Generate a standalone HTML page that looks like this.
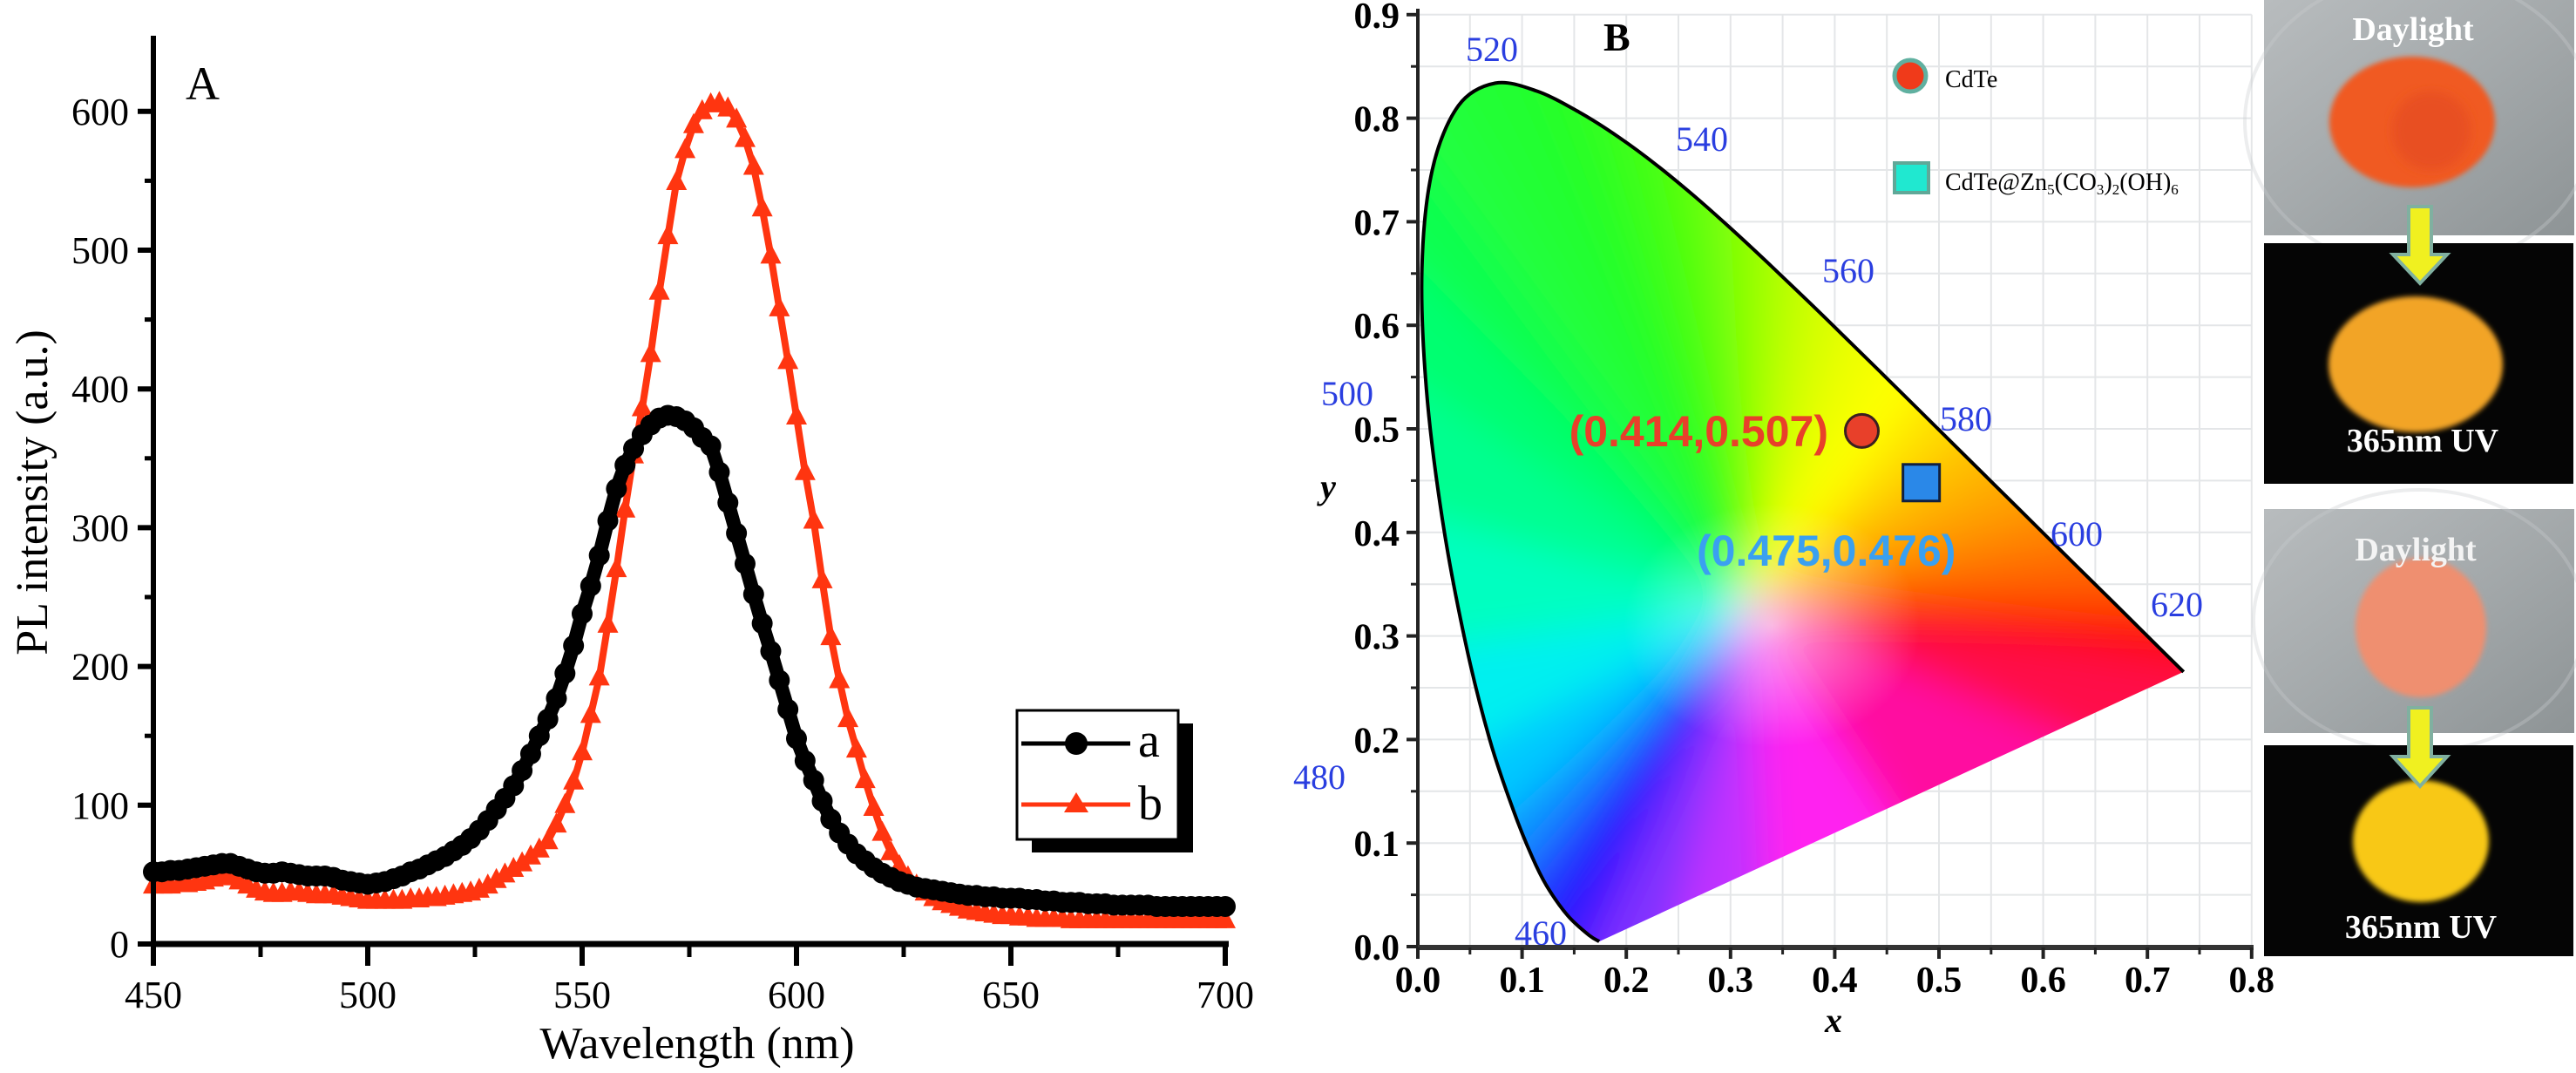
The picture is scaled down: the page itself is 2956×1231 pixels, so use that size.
<!DOCTYPE html>
<html><head><meta charset="utf-8"><style>
html,body{margin:0;padding:0;background:#fff;}
svg{display:block;}
</style></head><body>
<svg id="fig" width="2956" height="1231" viewBox="0 0 2956 1231" xmlns="http://www.w3.org/2000/svg">
<defs>
  <filter id="blurBig" x="-20%" y="-20%" width="140%" height="140%"><feGaussianBlur stdDeviation="22"/></filter>
  <filter id="blurSm"><feGaussianBlur stdDeviation="6"/></filter>
  <filter id="blurPh"><feGaussianBlur stdDeviation="3"/></filter>
  <radialGradient id="whiteGlow"><stop offset="0" stop-color="#fff" stop-opacity="0.6"/><stop offset="1" stop-color="#fff" stop-opacity="0"/></radialGradient>
  <linearGradient id="grayPhoto" x1="0" y1="0" x2="1" y2="1"><stop offset="0" stop-color="#b8bcbe"/><stop offset="0.5" stop-color="#a4a9ab"/><stop offset="1" stop-color="#8e9496"/></linearGradient>
  <clipPath id="locusClip"><path id="locusClipPath" d=""/></clipPath>
</defs>
<g id="panelA"></g>
<g id="panelB"></g>
<g id="photos">
  <rect x="2598" y="0" width="356" height="270" fill="url(#grayPhoto)"/>
  <ellipse cx="2776" cy="140" rx="200" ry="170" fill="none" stroke="#c8ccce" stroke-width="4" opacity="0.35"/>
  <ellipse cx="2768" cy="140" rx="95" ry="75" fill="#f05a20" filter="url(#blurPh)"/>
  <ellipse cx="2790" cy="150" rx="45" ry="45" fill="#e85020" filter="url(#blurSm)"/>
  <text x="2769" y="46" text-anchor="middle" font-family="Liberation Serif, serif" font-weight="bold" font-size="38" fill="#fff">Daylight</text>

  <rect x="2598" y="279" width="355" height="276" fill="#050505"/>
  <ellipse cx="2772" cy="418" rx="100" ry="78" fill="#f2a428" filter="url(#blurPh)"/>
  <text x="2780" y="518" text-anchor="middle" font-family="Liberation Serif, serif" font-weight="bold" font-size="38" fill="#fff">365nm UV</text>

  <rect x="2598" y="584" width="356" height="257" fill="url(#grayPhoto)"/>
  <ellipse cx="2776" cy="712" rx="190" ry="150" fill="none" stroke="#c8ccce" stroke-width="4" opacity="0.35"/>
  <ellipse cx="2778" cy="720" rx="75" ry="80" fill="#ef8f70" filter="url(#blurPh)"/>
  <text x="2772" y="643" text-anchor="middle" font-family="Liberation Serif, serif" font-weight="bold" font-size="38" fill="#f4f4f4">Daylight</text>

  <rect x="2598" y="855" width="355" height="242" fill="#050505"/>
  <ellipse cx="2778" cy="965" rx="78" ry="70" fill="#f8c818" filter="url(#blurPh)"/>
  <text x="2778" y="1076" text-anchor="middle" font-family="Liberation Serif, serif" font-weight="bold" font-size="38" fill="#fff">365nm UV</text>

  <path d="M2764,237 L2790,237 L2790,292 L2808,292 L2777,325 L2746,292 L2764,292 Z" fill="#f0f020" stroke="#80b0a0" stroke-width="4"/>
  <path d="M2764,812 L2790,812 L2790,868 L2808,868 L2777,902 L2746,868 L2764,868 Z" fill="#f0f020" stroke="#80b0a0" stroke-width="4"/>
</g>
</svg>
<script>
// ---------- Panel A data ----------
const wlStart = 450, wlStep = 2;
const seriesA = [52,52,53,53,54,55,56,57,58,58,
56,54,52,51,51,52,51,50,49,49,
49,48,46,45,44,43,44,45,47,49,
52,54,57,60,63,67,71,76,82,89,
97,105,114,125,137,150,162,177,195,215,
238,258,280,305,328,345,357,367,374,379,
381,380,377,372,365,359,340,318,296,274,
252,231,211,190,169,148,132,118,103,90,
80,72,65,60,55,51,48,45,43,41,
40,39,38,37,36,35,35,34,34,33,
33,33,32,32,31,31,30,30,30,29,
29,29,28,28,28,28,28,27,27,27,
27,27,27,27,27,27];
const seriesB = [42,42,42,43,43,44,45,47,49,48,
45,42,39,37,36,36,37,37,36,35,
35,35,34,33,32,31,31,31,31,31,
32,32,33,33,34,35,36,37,39,42,
46,50,54,58,63,68,74,86,100,117,
138,165,192,230,270,313,352,386,425,470,
510,549,572,590,600,605,606,602,594,580,
560,530,496,458,420,380,340,305,262,221,
190,162,140,118,98,80,66,56,48,42,
37,33,30,28,26,24,23,22,21,20,
20,19,19,18,18,18,18,17,17,17,
17,17,17,17,17,17,17,17,17,17,
17,17,17,17,17,17];
const xTicksA = [450,500,550,600,650,700];
const yTicksA = [0,100,200,300,400,500,600];

// ---------- Panel B data ----------
const locusWl = [380,440,460,470,475,480,485,490,495,500,505,510,515,520,525,530,535,540,545,550,555,560,565,570,575,580,585,590,595,600,610,620,640,700];
const locusX = [0.1741,0.1644,0.1440,0.1241,0.1096,0.0913,0.0687,0.0454,0.0235,0.0082,0.0039,0.0139,0.0389,0.0743,0.1142,0.1547,0.1929,0.2296,0.2658,0.3016,0.3373,0.3731,0.4087,0.4441,0.4788,0.5125,0.5448,0.5752,0.6029,0.6270,0.6658,0.6915,0.7190,0.7347];
const locusY = [0.0050,0.0109,0.0297,0.0578,0.0868,0.1327,0.2007,0.2950,0.4127,0.5384,0.6548,0.7502,0.8120,0.8338,0.8262,0.8059,0.7816,0.7543,0.7243,0.6923,0.6589,0.6245,0.5896,0.5547,0.5202,0.4866,0.4544,0.4242,0.3965,0.3725,0.3340,0.3083,0.2809,0.2653];
const sampleNames = ["CdTe","CdTe@Zn5(CO3)2(OH)6"];
const sampleX = [0.426,0.483];
const sampleY = [0.498,0.448];
const xTicksB = ["0.0","0.1","0.2","0.3","0.4","0.5","0.6","0.7","0.8"];
const yTicksB = ["0.0","0.1","0.2","0.3","0.4","0.5","0.6","0.7","0.8","0.9"];

const NS = "http://www.w3.org/2000/svg";
function mk(parent, tag, attrs, text){
  const e = document.createElementNS(NS, tag);
  for (const k in attrs) e.setAttribute(k, attrs[k]);
  if (text !== undefined) e.textContent = text;
  parent.appendChild(e);
  return e;
}
// ---------- Panel A ----------
const A = document.getElementById('panelA');
const ax = w => 176 + (w - 450) * 4.92;
const ay = v => 1083 - v * 1.592;
const serif = "Liberation Serif, serif";

function drawSeries(vals, color, kind, name){
  const g = mk(A, 'g', {});
  
  
  let d = '';
  vals.forEach((v,i)=>{ const w = wlStart + i*wlStep; d += (i?'L':'M') + ax(w).toFixed(1) + ',' + ay(v).toFixed(1); });
  const p = mk(g, 'path', {d:d, fill:'none', stroke:color, 'stroke-width':(kind==='circle'?16:8),'stroke-linejoin':'round'});
  
  
  vals.forEach((v,i)=>{
    const w = wlStart + i*wlStep, cx = ax(w), cy = ay(v);
    let m;
    if (kind === 'circle') m = mk(g, 'circle', {cx:cx, cy:cy, r:12, fill:color});
    else m = mk(g, 'path', {d:`M${cx},${cy-14} L${cx+12},${cy+9} L${cx-12},${cy+9} Z`, fill:color});
    
    
  });
}
drawSeries(seriesB, '#ff3510', 'tri', 'series-b');
drawSeries(seriesA, '#000', 'circle', 'series-a');

// axes A
let e = mk(A,'line',{x1:176,y1:41,x2:176,y2:1086,stroke:'#000','stroke-width':6});
 
e = mk(A,'line',{x1:173,y1:1083,x2:1410,y2:1083,stroke:'#000','stroke-width':7});
 
xTicksA.forEach(t=>{
  mk(A,'line',{x1:ax(t),y1:1083,x2:ax(t),y2:1108,stroke:'#000','stroke-width':6});
  e = mk(A,'text',{x:ax(t),y:1156,'text-anchor':'middle','font-family':serif,'font-size':44},String(t));
   
});
for (let t=475;t<700;t+=50) mk(A,'line',{x1:ax(t),y1:1083,x2:ax(t),y2:1098,stroke:'#000','stroke-width':5});
yTicksA.forEach(t=>{
  mk(A,'line',{x1:158,y1:ay(t),x2:176,y2:ay(t),stroke:'#000','stroke-width':6});
  e = mk(A,'text',{x:148,y:ay(t)+15,'text-anchor':'end','font-family':serif,'font-size':44},String(t));
   
});
for (let t=50;t<650;t+=100) mk(A,'line',{x1:166,y1:ay(t),x2:176,y2:ay(t),stroke:'#000','stroke-width':5});
e = mk(A,'text',{x:800,y:1214,'text-anchor':'middle','font-family':serif,'font-size':52},'Wavelength (nm)');
 
e = mk(A,'text',{x:0,y:0,transform:'translate(54,565) rotate(-90)','text-anchor':'middle','font-family':serif,'font-size':52},'PL intensity (a.u.)');
 
e = mk(A,'text',{x:213,y:114,'font-family':serif,'font-size':54},'A');
 
// legend A
const LA = mk(A,'g',{});
 
mk(LA,'rect',{x:1184,y:830,width:185,height:148,fill:'#000'});
mk(LA,'rect',{x:1167,y:815,width:185,height:148,fill:'#fff',stroke:'#000','stroke-width':3});
mk(LA,'line',{x1:1172,y1:853,x2:1297,y2:853,stroke:'#000','stroke-width':5});
mk(LA,'circle',{cx:1235,cy:853,r:13,fill:'#000'});
e = mk(LA,'text',{x:1306,y:868,'font-family':serif,'font-size':56},'a');
 
mk(LA,'line',{x1:1172,y1:923,x2:1297,y2:923,stroke:'#ff3510','stroke-width':5});
mk(LA,'path',{d:'M1235,909 L1249,932 L1221,932 Z',fill:'#ff3510'});
e = mk(LA,'text',{x:1306,y:940,'font-family':serif,'font-size':56},'b');
 

// ---------- Panel B ----------
const B = document.getElementById('panelB');
const bx = x => 1627 + x * 1196;
const by = y => 1086 - y * 1188;
// grid
const grid = mk(B,'g',{stroke:'#e4e6e8','stroke-width':2});
 
for (let i=1;i<=16;i++){ const v=i*0.05; mk(grid,'line',{x1:bx(v),y1:by(0),x2:bx(v),y2:by(0.9)}); }
for (let i=1;i<=18;i++){ const v=i*0.05; mk(grid,'line',{x1:bx(0),y1:by(v),x2:bx(0.8),y2:by(v)}); }

// smooth locus path (Catmull-Rom)
const pts = locusX.map((x,i)=>[bx(x), by(locusY[i])]);
function smoothPath(p){
  let d = 'M'+p[0][0].toFixed(1)+','+p[0][1].toFixed(1);
  for (let i=0;i<p.length-1;i++){
    const p0=p[Math.max(0,i-1)], p1=p[i], p2=p[i+1], p3=p[Math.min(p.length-1,i+2)];
    const c1=[p1[0]+(p2[0]-p0[0])/6, p1[1]+(p2[1]-p0[1])/6];
    const c2=[p2[0]-(p3[0]-p1[0])/6, p2[1]-(p3[1]-p1[1])/6];
    d += `C${c1[0].toFixed(1)},${c1[1].toFixed(1)} ${c2[0].toFixed(1)},${c2[1].toFixed(1)} ${p2[0].toFixed(1)},${p2[1].toFixed(1)}`;
  }
  return d;
}
const locD = smoothPath(pts);
document.getElementById('locusClipPath').setAttribute('d', locD + 'Z');
const locColors = ['#5a1cff','#3a10ff','#2020ff','#2050ff','#1090ff','#00c8ff','#00f0f0','#00ffc0','#00ff90','#00ff70','#10ff50','#20ff40','#20ff35','#20ff30','#28ff28','#30ff20','#40ff18','#50ff10','#70ff08','#90ff00','#b8ff00','#d8ff00','#f0ff00','#ffff00','#ffe000','#ffc000','#ffa800','#ff9000','#ff7800','#ff6000','#ff3000','#ff1010','#ff0020','#ff0848'];
const purpleX = [0.6,0.45,0.33,0.25], purpleY=[0.21,0.13,0.075,0.04];
const purpleC = ['#ff10a0','#ff20f0','#c030ff','#8030ff'];
const per = []; locusX.forEach((x,i)=>per.push([x,locusY[i],locColors[i]]));
purpleX.forEach((x,i)=>per.push([x,purpleY[i],purpleC[i]]));
const clipG = mk(B,'g',{'clip-path':'url(#locusClip)'});
 
const blurG = mk(clipG,'g',{filter:'url(#blurBig)'});
const W=[0.32,0.33];
for (let i=0;i<per.length;i++){
  const p=per[i], q=per[(i+1)%per.length];
  const ext = (pt,f)=>[W[0]+(pt[0]-W[0])*f, W[1]+(pt[1]-W[1])*f];
  const a1=ext(p,1.5), a2=ext(q,1.5);
  mk(blurG,'polygon',{points:`${bx(W[0])},${by(W[1])} ${bx(a1[0])},${by(a1[1])} ${bx(a2[0])},${by(a2[1])}`, fill:p[2], stroke:p[2], 'stroke-width':3});
}
mk(clipG,'ellipse',{cx:bx(0.34),cy:by(0.31),rx:170,ry:140,fill:'url(#whiteGlow)'});
e = mk(B,'path',{d:locD,fill:'none',stroke:'#000','stroke-width':4,'stroke-linejoin':'round'});
 

// wavelength labels
const wlLabels = [['520',1712,70],['540',1953,173],['560',2121,324],['580',2256,494],['600',2383,626],['620',2498,707],['500',1546,465],['480',1514,905],['460',1768,1084]];
wlLabels.forEach(l=>{
  e = mk(B,'text',{x:l[1],y:l[2],'text-anchor':'middle','font-family':serif,'font-size':40,fill:'#2a3ee0'},l[0]);
   
});

// axes B
e = mk(B,'line',{x1:1627,y1:10,x2:1627,y2:1088,stroke:'#222','stroke-width':4});
 
e = mk(B,'line',{x1:1625,y1:1087,x2:2586,y2:1087,stroke:'#333','stroke-width':6});
 
xTicksB.forEach((t,i)=>{
  const v=i*0.1;
  mk(B,'line',{x1:bx(v),y1:1087,x2:bx(v),y2:1100,stroke:'#222','stroke-width':4});
  if (i<8) mk(B,'line',{x1:bx(v+0.05),y1:1087,x2:bx(v+0.05),y2:1095,stroke:'#222','stroke-width':3});
  e = mk(B,'text',{x:bx(v),y:1138,'text-anchor':'middle','font-family':serif,'font-weight':'bold','font-size':42},t);
   
});
yTicksB.forEach((t,i)=>{
  const v=i*0.1;
  mk(B,'line',{x1:1614,y1:by(v),x2:1627,y2:by(v),stroke:'#222','stroke-width':4});
  if (i<9) mk(B,'line',{x1:1619,y1:by(v+0.05),x2:1627,y2:by(v+0.05),stroke:'#222','stroke-width':3});
  e = mk(B,'text',{x:1606,y:by(v)+15,'text-anchor':'end','font-family':serif,'font-weight':'bold','font-size':42},t);
   
});
e = mk(B,'text',{x:2104,y:1184,'text-anchor':'middle','font-family':serif,'font-weight':'bold','font-style':'italic','font-size':40},'x');
 
e = mk(B,'text',{x:1524,y:572,'text-anchor':'middle','font-family':serif,'font-weight':'bold','font-style':'italic','font-size':40},'y');
 
e = mk(B,'text',{x:1840,y:58,'font-family':serif,'font-weight':'bold','font-size':46},'B');
 

// sample points
e = mk(B,'circle',{cx:bx(sampleX[0]),cy:by(sampleY[0]),r:19,fill:'#e8402a',stroke:'#3a2020','stroke-width':3});
 
e = mk(B,'rect',{x:bx(sampleX[1])-21,y:by(sampleY[1])-21,width:42,height:42,fill:'#2a88e8',stroke:'#102040','stroke-width':3});
 
e = mk(B,'text',{x:2098,y:512,'text-anchor':'end','font-family':'Liberation Sans, sans-serif','font-weight':'bold','font-size':50,fill:'#e8402a'},'(0.414,0.507)');
 
e = mk(B,'text',{x:1947,y:649,'font-family':'Liberation Sans, sans-serif','font-weight':'bold','font-size':50,fill:'#3aa0f0'},'(0.475,0.476)');
 

// legend B
const LB = mk(B,'g',{});
 
mk(LB,'circle',{cx:2192,cy:87,r:18,fill:'#f03a1a',stroke:'#60b0a0','stroke-width':5});
e = mk(LB,'text',{x:2232,y:100,'font-family':serif,'font-size':28},sampleNames[0]);
 
mk(LB,'rect',{x:2174,y:187,width:39,height:34,fill:'#20e8d0',stroke:'#60a898','stroke-width':4});
const t2 = mk(LB,'text',{x:2232,y:218,'font-family':serif,'font-size':28});
 
t2.innerHTML = 'CdTe@Zn<tspan font-size="17" dy="5">5</tspan><tspan dy="-5">(CO</tspan><tspan font-size="17" dy="5">3</tspan><tspan dy="-5">)</tspan><tspan font-size="17" dy="5">2</tspan><tspan dy="-5">(OH)</tspan><tspan font-size="17" dy="5">6</tspan>';
</script>
</body></html>
